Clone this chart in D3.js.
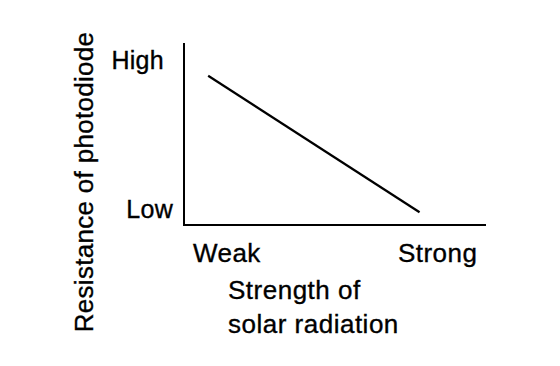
<!DOCTYPE html>
<html><head><meta charset="utf-8">
<script src="https://cdn.jsdelivr.net/npm/d3@7"></script>
<style>html,body{margin:0;padding:0;background:#fff;}svg{display:block;}</style>
</head><body>
<script>
// Data
const strength = [0.08, 0.78];          // x: strength of solar radiation (relative)
const resistance = [0.82, 0.07];        // y: resistance of photodiode (relative)
const xTickLabels = ["Weak", "Strong"];
const xTickValues = [0.142, 0.84];
const yTickLabels = ["Low", "High"];
const yTickValues = [0.088, 0.907];
const xTitleLines = ["Strength of", "solar radiation"];
const yTitle = "Resistance of photodiode";

const W = 560, H = 366;
const svg = d3.select("body").append("svg").attr("width", W).attr("height", H);
const font = "'Liberation Sans', Arial, Helvetica, sans-serif";

const x = d3.scaleLinear().domain([0, 1]).range([184, 486]);
const y = d3.scaleLinear().domain([0, 1]).range([225, 43]);

function styleText(sel, size, ls) {
  sel.attr("font-family", font).attr("font-size", size).attr("fill", "#000")
    .attr("stroke", "#000").attr("stroke-width", 0.35)
    .attr("letter-spacing", ls);
}

// axes
svg.append("line").attr("x1", x(0)).attr("x2", x(0)).attr("y1", y(1)).attr("y2", y(0) + 1)
  .attr("stroke", "#000").attr("stroke-width", 2);
svg.append("line").attr("x1", x(0) - 1).attr("x2", x(1)).attr("y1", y(0)).attr("y2", y(0))
  .attr("stroke", "#000").attr("stroke-width", 2);

// data line
const pts = strength.map((s, i) => [s, resistance[i]]);
svg.append("path").datum(pts)
  .attr("d", d3.line().x(d => x(d[0])).y(d => y(d[1])))
  .attr("fill", "none").attr("stroke", "#000").attr("stroke-width", 2.2);

// y tick labels
const yRight = {"Low": 173, "High": 164};
svg.selectAll(".ytick").data(yTickLabels).enter().append("text")
  .attr("x", d => yRight[d])
  .attr("y", (d, i) => y(yTickValues[i]) + 9)
  .attr("text-anchor", "end")
  .call(styleText, 25, 0.3)
  .text(d => d);

// x tick labels
svg.selectAll(".xtick").data(xTickLabels).enter().append("text")
  .attr("x", (d, i) => x(xTickValues[i]))
  .attr("y", 262)
  .attr("text-anchor", "middle")
  .call(styleText, 26, 0.5)
  .text(d => d);

// x title
svg.selectAll(".xtitle").data(xTitleLines).enter().append("text")
  .attr("x", 228)
  .attr("y", (d, i) => 299 + i * 34)
  .call(styleText, 26, 0.5)
  .text(d => d);

// y title
svg.append("text")
  .attr("transform", "translate(93,182) rotate(-90)")
  .attr("text-anchor", "middle")
  .call(styleText, 26, 0.3)
  .text(yTitle);
</script>
</body></html>
